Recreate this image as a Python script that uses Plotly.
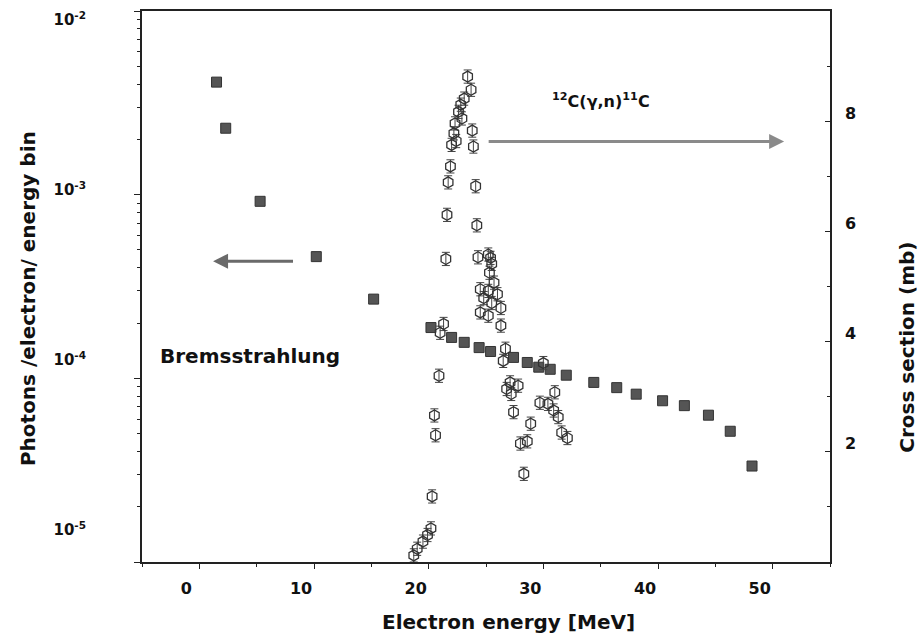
import plotly.graph_objects as go

# Bremsstrahlung spectrum (left, log axis)
brems_E = [1.5, 2.3, 5.3, 10.2, 15.2, 20.2, 22.0, 23.1, 24.4, 25.4, 27.4, 28.6, 29.6, 30.6,
           32.0, 34.4, 36.4, 38.1, 40.4, 42.3, 44.4, 46.3, 48.2]
brems_val = [4.1e-3, 2.3e-3, 9.2e-4, 4.6e-4, 2.7e-4, 1.89e-4, 1.67e-4, 1.57e-4, 1.47e-4, 1.40e-4,
             1.30e-4, 1.22e-4, 1.15e-4, 1.12e-4, 1.04e-4, 9.5e-5, 8.9e-5, 8.2e-5, 7.55e-5, 7.1e-5,
             6.3e-5, 5.15e-5, 3.33e-5]

# 12C(g,n)11C cross section (right axis, mb)
cs_E = [18.7, 19.0, 19.5, 19.9, 20.2, 20.3, 20.5, 20.6, 20.9, 21.0, 21.3, 21.5, 21.6, 21.7,
        21.9, 22.0, 22.2, 22.3, 22.4, 22.6, 22.8, 22.9, 23.1, 23.4, 23.7, 23.8, 23.9, 24.1,
        24.2, 24.3, 24.5, 24.8, 24.5, 25.2, 25.4, 25.5, 25.3, 25.7, 25.2, 26.0, 25.5, 26.3,
        25.2, 26.3, 26.7, 26.5, 26.8, 27.1, 27.2, 27.8, 27.4, 28.0, 28.3, 28.6, 28.9, 29.7,
        30.0, 30.4, 30.9, 31.0, 31.3, 31.6, 32.1]
cs_val = [0.12, 0.24, 0.37, 0.49, 0.61, 1.19, 2.66, 2.30, 3.38, 4.16, 4.32, 5.50, 6.30, 6.89,
          7.18, 7.57, 7.78, 7.96, 7.64, 8.17, 8.30, 8.05, 8.41, 8.81, 8.57, 7.83, 7.54, 6.82,
          6.11, 5.53, 4.95, 4.79, 4.53, 5.58, 5.52, 5.41, 5.25, 5.07, 4.92, 4.86, 4.70, 4.61,
          4.47, 4.29, 3.87, 3.65, 3.14, 3.26, 3.05, 3.20, 2.72, 2.15, 1.60, 2.19, 2.51, 2.89,
          3.61, 2.87, 2.75, 3.08, 2.63, 2.35, 2.25]
cs_err = [0.12] * len(cs_val)

# tick labels
x_ticks = [0, 10, 20, 30, 40, 50]
left_tickvals = [1e-5, 1e-4, 1e-3, 1e-2]
left_ticktext = ["10<sup>-5</sup>", "10<sup>-4</sup>", "10<sup>-3</sup>", "10<sup>-2</sup>"]
right_ticks = [2, 4, 6, 8]

FONT = "DejaVu Sans"
AX = "#222222"
BOLD16 = dict(family=FONT, size=16, weight="bold", color="#111111")

fig = go.Figure()

fig.add_trace(go.Scatter(
    x=cs_E, y=cs_val, yaxis="y2", mode="markers",
    marker=dict(symbol="hexagon-open", size=11, color="#333333", line=dict(width=1.3)),
    error_y=dict(type="data", array=cs_err, color="#444444", thickness=1, width=4),
    showlegend=False))

fig.add_trace(go.Scatter(
    x=brems_E, y=brems_val, mode="markers",
    marker=dict(symbol="square", size=10, color="#555555", line=dict(width=1, color="#333333")),
    showlegend=False))

fig.update_layout(
    width=918, height=637,
    margin=dict(l=142, r=88, t=9, b=75),
    paper_bgcolor="white", plot_bgcolor="white",
    font=dict(family=FONT, size=13, color="#111111"),
    xaxis=dict(range=[-5, 55], tickvals=x_ticks, ticks="outside", ticklen=5, tickwidth=1,
               tickcolor=AX, showline=True, linecolor=AX, linewidth=1.5, mirror=True,
               showgrid=False, zeroline=False, ticklabelshift=-13, ticklabelstandoff=6,
               minor=dict(dtick=5, tick0=0, ticks="outside", ticklen=3, tickcolor=AX),
               tickfont=BOLD16),
    yaxis=dict(type="log", range=[-5, -2], dtick=1, showticklabels=False,
               ticks="outside", ticklen=6, tickcolor=AX, showline=True, linecolor=AX,
               linewidth=1.5, showgrid=False, zeroline=False,
               minor=dict(dtick="D1", ticks="outside", ticklen=3, tickcolor=AX)),
    # label-only axis reproducing the placement of the decade labels
    yaxis3=dict(type="log", overlaying="y", side="left", anchor="x",
                range=[-5.188, -1.947], tickvals=left_tickvals, ticktext=left_ticktext,
                ticks="", showline=False, showgrid=False, zeroline=False,
                ticklabelstandoff=55, tickfont=dict(family=FONT, size=15, weight="bold",
                                                    color="#111111")),
    yaxis2=dict(overlaying="y", side="right", range=[0, 10], tickvals=right_ticks,
                ticks="inside", ticklen=5, tickcolor=AX, showline=True, linecolor=AX,
                linewidth=1.5, showgrid=False, zeroline=False, ticklabelstandoff=10,
                ticklabelshift=-8,
                minor=dict(tickvals=[1, 3, 5, 7, 9], ticks="inside", ticklen=3, tickcolor=AX),
                tickfont=BOLD16),
)

# invisible trace to activate the label axis
fig.add_trace(go.Scatter(x=[None], y=[None], yaxis="y3", showlegend=False, hoverinfo="skip"))

TITLE = dict(family=FONT, size=20, weight="bold", color="#111111")
fig.add_annotation(text="Electron energy [MeV]", xref="paper", yref="paper", x=0.532, y=-0.1085,
                   showarrow=False, xanchor="center", yanchor="middle", font=TITLE)
fig.add_annotation(text="Photons /electron/ energy bin", xref="paper", yref="paper",
                   x=-0.1657, y=0.479, textangle=-90, showarrow=False,
                   xanchor="center", yanchor="middle", font=TITLE)
fig.add_annotation(text="Cross section (mb)", xref="paper", yref="paper", x=1.112, y=0.389,
                   textangle=-90, showarrow=False, xanchor="center", yanchor="middle",
                   font=TITLE)

fig.add_annotation(text="Bremsstrahlung", xref="paper", yref="paper", x=0.0233, y=0.374,
                   xanchor="left", yanchor="middle", showarrow=False, font=TITLE)

fig.add_annotation(text="<sup>12</sup>C(γ,n)<sup>11</sup>C", xref="paper", yref="paper",
                   x=0.667, y=0.837, showarrow=False, xanchor="center", yanchor="middle",
                   font=dict(family=FONT, size=16, weight="bold", color="#111111"))

# right arrow (cross section -> right axis)
fig.add_annotation(x=51.0, y=7.63, ax=25.1, ay=7.63, xref="x", yref="y2",
                   axref="x", ayref="y2", text="", showarrow=True,
                   arrowhead=2, arrowsize=1, arrowwidth=3, arrowcolor="#8a8a8a")
# left arrow (bremsstrahlung -> left axis)
fig.add_annotation(x=1.2, y=5.46, ax=8.3, ay=5.46, xref="x", yref="y2",
                   axref="x", ayref="y2", text="", showarrow=True,
                   arrowhead=2, arrowsize=1, arrowwidth=3, arrowcolor="#6a6a6a")

fig.write_html("out.html")
